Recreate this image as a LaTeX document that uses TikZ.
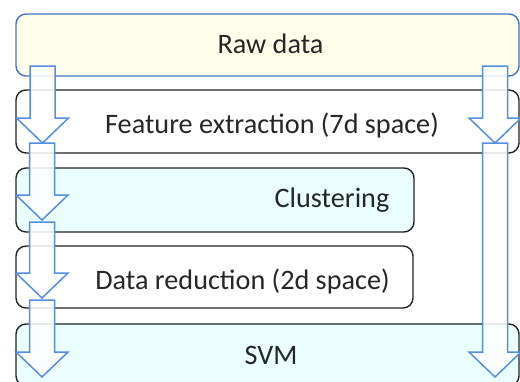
\documentclass[tikz,border=0pt]{standalone}
\usepackage{fontspec}
\setmainfont{Carlito}
\definecolor{rawfill}{RGB}{255,254,234}
\definecolor{cyanfill}{RGB}{234,254,255}
\definecolor{rawedge}{RGB}{68,114,196}
\definecolor{boxedge}{RGB}{35,35,35}
\definecolor{arrowedge}{RGB}{84,142,226}
\newcommand{\blockarr}[4]{% name, center x, top y, tip y
  \path[blockarrow] (#2-12.5,#3) -- (#2+12.5,#3) -- (#2+12.5,#4-25) -- (#2+26,#4-25)
    -- (#2,#4) coordinate (#1) -- (#2-26,#4-25) -- (#2-12.5,#4-25) -- cycle;}
\begin{document}
\begin{tikzpicture}[x=1pt,y=-1pt,
  box/.style={draw=boxedge,line width=1.4pt,rounded corners=10pt,inner sep=0pt},
  lbl/.style={anchor=base,inner sep=0pt,font=\fontsize{28.2}{32}\selectfont,text=black!85},
  blockarrow/.style={draw=arrowedge,line width=1.5pt,fill=white,fill opacity=0.85,line join=miter}]
\useasboundingbox (0,0) rectangle (520,381);
\node[box,draw=rawedge,fill=rawfill,minimum width=503pt,minimum height=62pt] (raw) at (267.5,45) {};
\node[box,fill=white,minimum width=503pt,minimum height=63pt] (feat) at (267.5,121.5) {};
\node[box,fill=cyanfill,minimum width=398pt,minimum height=64pt] (clus) at (215,200) {};
\node[box,fill=white,minimum width=397pt,minimum height=62pt] (dred) at (214.5,277) {};
\node[box,fill=cyanfill,minimum width=503pt,minimum height=62pt] (svm) at (267.5,355) {};
\node[lbl] (rawt) at (270.5,53) {Raw data};
\node[lbl] (featt) at (272,133) {Feature extraction (7d space)};
\node[lbl] (clust) at (332,207) {Clustering};
\node[lbl] (dredt) at (242.5,289) {Data reduction (2d space)};
\node[lbl] (svmt) at (271,364) {SVM};
\blockarr{la1}{42.5}{66}{143}
\blockarr{la2}{42}{143}{220}
\blockarr{la3}{42}{222}{298}
\blockarr{la4}{42}{300}{377}
\blockarr{ra1}{495}{66}{143}
\blockarr{ra2}{495}{143}{377}
\end{tikzpicture}
\end{document}
